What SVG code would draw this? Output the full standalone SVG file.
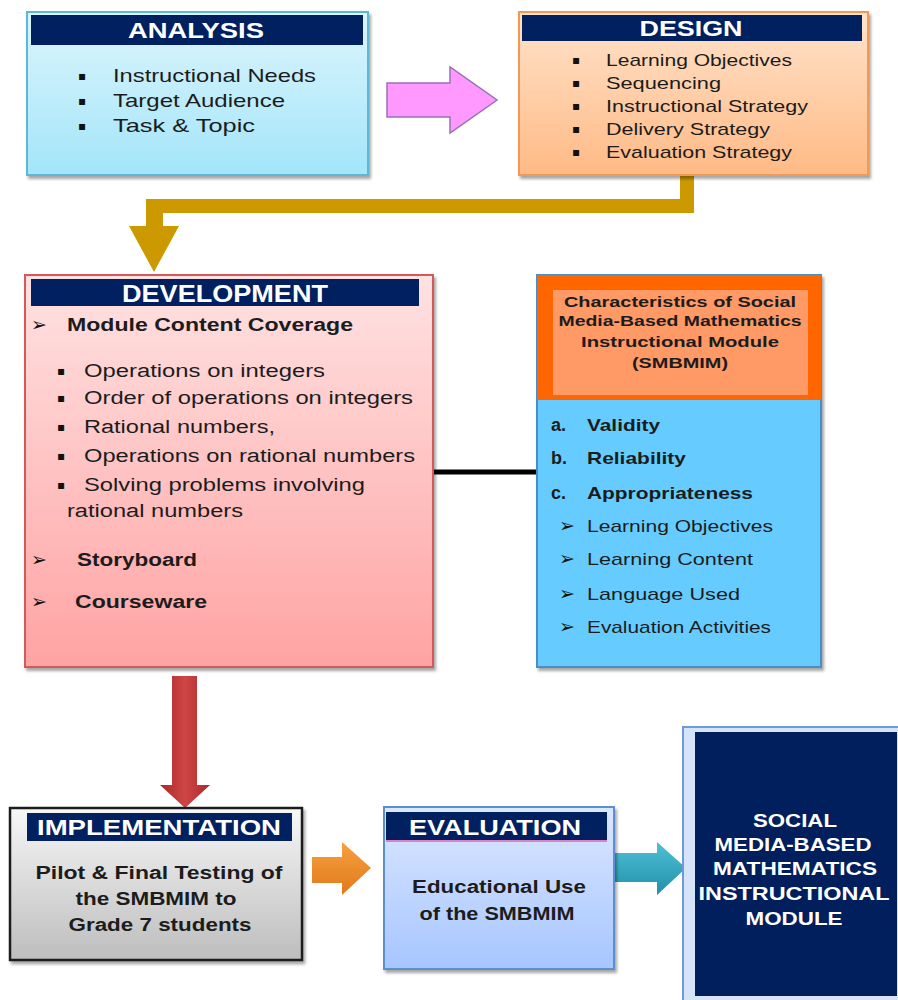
<svg xmlns="http://www.w3.org/2000/svg" width="898" height="1000" viewBox="0 0 898 1000">
<style>
.t{font-family:"Liberation Sans",Arial,sans-serif;fill:#1c1c1c}
.b{font-weight:bold}
.hd{font-family:"Liberation Sans",Arial,sans-serif;font-weight:bold;fill:#ffffff;text-anchor:middle}
.bul{font-family:"DejaVu Sans",sans-serif;fill:#111;font-size:12px}
.arr{font-family:"DejaVu Sans",sans-serif;fill:#111;font-size:19px}
.band{fill:#002060}
</style>
<defs>
<filter id="sh" x="-5%" y="-5%" width="115%" height="115%"><feDropShadow dx="2" dy="3" stdDeviation="1.5" flood-color="#000" flood-opacity="0.35"/></filter>
<linearGradient id="gA" x1="0" y1="0" x2="0" y2="1"><stop offset="0" stop-color="#DDF5FD"/><stop offset="1" stop-color="#A3E5F9"/></linearGradient>
<linearGradient id="gD" x1="0" y1="0" x2="0" y2="1"><stop offset="0" stop-color="#FFE3CC"/><stop offset="1" stop-color="#FFBA85"/></linearGradient>
<linearGradient id="gV" x1="0" y1="0" x2="0" y2="1"><stop offset="0" stop-color="#FFE2E2"/><stop offset="1" stop-color="#FFA3A3"/></linearGradient>
<linearGradient id="gI" x1="0" y1="0" x2="0" y2="1"><stop offset="0" stop-color="#F7F7F7"/><stop offset="1" stop-color="#BDBDBD"/></linearGradient>
<linearGradient id="gE" x1="0" y1="0" x2="0" y2="1"><stop offset="0" stop-color="#DCE7FF"/><stop offset="1" stop-color="#A6C6FF"/></linearGradient>
<linearGradient id="gR" x1="0" y1="0" x2="1" y2="0"><stop offset="0" stop-color="#A92A2A"/><stop offset="0.5" stop-color="#D04545"/><stop offset="1" stop-color="#A92A2A"/></linearGradient>
<linearGradient id="gO" x1="0" y1="0" x2="0" y2="1"><stop offset="0" stop-color="#F7A040"/><stop offset="1" stop-color="#E07A1A"/></linearGradient>
<linearGradient id="gT" x1="0" y1="0" x2="0" y2="1"><stop offset="0" stop-color="#4FC0D6"/><stop offset="1" stop-color="#2090A8"/></linearGradient>
</defs>

<g id="connectors">
  <path d="M387,83 H450 V67 L497,100 L450,133 V117 H387 Z" fill="#FF99FF" stroke="#9A70B8" stroke-width="1.5"/>
  <path d="M694,173 V213 H163 V226 H179 L154,272 L129,226 H146 V199 H680 V173 Z" fill="#CC9900"/>
  <line x1="433" y1="472" x2="537" y2="472" stroke="#000" stroke-width="5"/>
  <path d="M172,676 H197 V785 H210 L185,808 L160,785 H172 Z" fill="url(#gR)"/>
  <path d="M312,857 H342 V842 L371,868 L342,895 V883 H312 Z" fill="url(#gO)"/>
  <path d="M614,853 H657 V842 L686,868 L657,895 V882 H614 Z" fill="url(#gT)"/>
</g>

<g id="analysis">
  <rect x="27" y="12" width="341" height="163" fill="url(#gA)" stroke="#5DB9D3" stroke-width="2" filter="url(#sh)"/>
  <rect class="band" x="31" y="15" width="332" height="30"/>
  <text class="hd" x="196" y="38" font-size="22" textLength="136" lengthAdjust="spacingAndGlyphs">ANALYSIS</text>
  <text class="bul" x="78" y="80">▪</text>
  <text class="bul" x="78" y="105">▪</text>
  <text class="bul" x="78" y="130">▪</text>
  <text class="t" x="113" y="82" font-size="19" textLength="203" lengthAdjust="spacingAndGlyphs">Instructional Needs</text>
  <text class="t" x="113" y="107" font-size="19" textLength="172" lengthAdjust="spacingAndGlyphs">Target Audience</text>
  <text class="t" x="113" y="132" font-size="19" textLength="142" lengthAdjust="spacingAndGlyphs">Task &amp; Topic</text>
</g>

<g id="design">
  <rect x="519" y="12" width="349" height="163" fill="url(#gD)" stroke="#F29A55" stroke-width="2" filter="url(#sh)"/>
  <rect class="band" x="522" y="15" width="340" height="26"/>
  <text class="hd" x="691" y="36" font-size="22" textLength="103" lengthAdjust="spacingAndGlyphs">DESIGN</text>
  <text class="bul" x="572" y="64">▪</text>
  <text class="bul" x="572" y="87">▪</text>
  <text class="bul" x="572" y="110">▪</text>
  <text class="bul" x="572" y="133">▪</text>
  <text class="bul" x="572" y="156">▪</text>
  <text class="t" x="606" y="66" font-size="17" textLength="186" lengthAdjust="spacingAndGlyphs">Learning Objectives</text>
  <text class="t" x="606" y="89" font-size="17" textLength="115" lengthAdjust="spacingAndGlyphs">Sequencing</text>
  <text class="t" x="606" y="112" font-size="17" textLength="202" lengthAdjust="spacingAndGlyphs">Instructional Strategy</text>
  <text class="t" x="606" y="135" font-size="17" textLength="164" lengthAdjust="spacingAndGlyphs">Delivery  Strategy</text>
  <text class="t" x="606" y="158" font-size="17" textLength="186" lengthAdjust="spacingAndGlyphs">Evaluation Strategy</text>
</g>

<g id="development">
  <rect x="25" y="275" width="408" height="392" fill="url(#gV)" stroke="#D45A5A" stroke-width="2" filter="url(#sh)"/>
  <rect class="band" x="31" y="279" width="388" height="27"/>
  <text class="hd" x="225" y="302" font-size="23" font-weight="normal" textLength="206" lengthAdjust="spacingAndGlyphs">DEVELOPMENT</text>
  <text class="arr" x="31" y="331">➢</text>
  <text class="t b" x="67" y="331" font-size="18" textLength="286" lengthAdjust="spacingAndGlyphs">Module Content Coverage</text>
  <text class="bul" x="57" y="375">▪</text>
  <text class="bul" x="57" y="402">▪</text>
  <text class="bul" x="57" y="431">▪</text>
  <text class="bul" x="57" y="460">▪</text>
  <text class="bul" x="57" y="489">▪</text>
  <text class="t" x="84" y="377" font-size="18" textLength="241" lengthAdjust="spacingAndGlyphs">Operations on integers</text>
  <text class="t" x="84" y="404" font-size="18" textLength="329" lengthAdjust="spacingAndGlyphs">Order of operations on integers</text>
  <text class="t" x="84" y="433" font-size="18" textLength="191" lengthAdjust="spacingAndGlyphs">Rational numbers,</text>
  <text class="t" x="84" y="462" font-size="18" textLength="331" lengthAdjust="spacingAndGlyphs">Operations on rational numbers</text>
  <text class="t" x="84" y="491" font-size="18" textLength="281" lengthAdjust="spacingAndGlyphs">Solving problems involving</text>
  <text class="t" x="67" y="517" font-size="18" textLength="176" lengthAdjust="spacingAndGlyphs">rational numbers</text>
  <text class="arr" x="31" y="566">➢</text>
  <text class="t b" x="77" y="566" font-size="18" textLength="120" lengthAdjust="spacingAndGlyphs">Storyboard</text>
  <text class="arr" x="31" y="608">➢</text>
  <text class="t b" x="75" y="608" font-size="18" textLength="132" lengthAdjust="spacingAndGlyphs">Courseware</text>
</g>

<g id="characteristics">
  <rect x="537" y="275" width="284" height="392" fill="#66CCFF" stroke="#4A8FC4" stroke-width="2" filter="url(#sh)"/>
  <rect x="537" y="275" width="284" height="125" fill="#FF6600"/>
  <rect x="553" y="290" width="255" height="105" fill="#FF9966"/>
  <text class="t b" x="680" y="307" font-size="15" text-anchor="middle" textLength="232" lengthAdjust="spacingAndGlyphs">Characteristics of Social</text>
  <text class="t b" x="680" y="326" font-size="15" text-anchor="middle" textLength="243" lengthAdjust="spacingAndGlyphs">Media-Based Mathematics</text>
  <text class="t b" x="680" y="347" font-size="15" text-anchor="middle" textLength="198" lengthAdjust="spacingAndGlyphs">Instructional Module</text>
  <text class="t b" x="680" y="368" font-size="15" text-anchor="middle" textLength="96" lengthAdjust="spacingAndGlyphs">(SMBMIM)</text>
  <text class="t b" x="551" y="431" font-size="18">a.</text>
  <text class="t b" x="587" y="431" font-size="17" textLength="73" lengthAdjust="spacingAndGlyphs">Validity</text>
  <text class="t b" x="551" y="464" font-size="18">b.</text>
  <text class="t b" x="587" y="464" font-size="17" textLength="99" lengthAdjust="spacingAndGlyphs">Reliability</text>
  <text class="t b" x="551" y="499" font-size="18">c.</text>
  <text class="t b" x="587" y="499" font-size="17" textLength="166" lengthAdjust="spacingAndGlyphs">Appropriateness</text>
  <text class="arr" x="559" y="532" font-size="17">➢</text>
  <text class="t" x="587" y="532" font-size="17" textLength="186" lengthAdjust="spacingAndGlyphs">Learning Objectives</text>
  <text class="arr" x="559" y="565" font-size="17">➢</text>
  <text class="t" x="587" y="565" font-size="17" textLength="166" lengthAdjust="spacingAndGlyphs">Learning Content</text>
  <text class="arr" x="559" y="600" font-size="17">➢</text>
  <text class="t" x="587" y="600" font-size="17" textLength="153" lengthAdjust="spacingAndGlyphs">Language Used</text>
  <text class="arr" x="559" y="633" font-size="17">➢</text>
  <text class="t" x="587" y="633" font-size="17" textLength="184" lengthAdjust="spacingAndGlyphs">Evaluation Activities</text>
</g>

<g id="implementation">
  <rect x="10" y="808" width="292" height="152" fill="url(#gI)" stroke="#1a1a1a" stroke-width="2.5" filter="url(#sh)"/>
  <rect class="band" x="27" y="813" width="265" height="28"/>
  <text class="hd" x="159" y="835" font-size="22" textLength="244" lengthAdjust="spacingAndGlyphs">IMPLEMENTATION</text>
  <text class="t b" x="159" y="879" font-size="18" text-anchor="middle" textLength="247" lengthAdjust="spacingAndGlyphs" fill="#333">Pilot &amp; Final Testing of</text>
  <text class="t b" x="156" y="905" font-size="18" text-anchor="middle" textLength="161" lengthAdjust="spacingAndGlyphs">the SMBMIM  to</text>
  <text class="t b" x="160" y="931" font-size="18" text-anchor="middle" textLength="183" lengthAdjust="spacingAndGlyphs">Grade 7 students</text>
</g>

<g id="evaluation">
  <rect x="384" y="807" width="230" height="162" fill="url(#gE)" stroke="#5D8FD0" stroke-width="2" filter="url(#sh)"/>
  <rect class="band" x="386" y="812" width="221" height="28"/>
  <line x1="386" y1="841" x2="607" y2="841" stroke="#E060B0" stroke-width="1.5"/>
  <text class="hd" x="495" y="835" font-size="22" textLength="172" lengthAdjust="spacingAndGlyphs">EVALUATION</text>
  <text class="t b" x="499" y="893" font-size="18" text-anchor="middle" textLength="174" lengthAdjust="spacingAndGlyphs" fill="#333">Educational Use</text>
  <text class="t b" x="497" y="920" font-size="18" text-anchor="middle" textLength="155" lengthAdjust="spacingAndGlyphs" fill="#333">of the SMBMIM</text>
</g>

<g id="module">
  <rect x="683" y="727" width="222" height="280" fill="#D6E4FA" stroke="#6E9AD8" stroke-width="2"/>
  <rect x="695" y="732" width="202" height="264" fill="#001F5C"/>
  <text class="hd" x="795" y="827" font-size="19" textLength="84" lengthAdjust="spacingAndGlyphs">SOCIAL</text>
  <text class="hd" x="793" y="851" font-size="19" textLength="157" lengthAdjust="spacingAndGlyphs">MEDIA-BASED</text>
  <text class="hd" x="795" y="875" font-size="19" textLength="164" lengthAdjust="spacingAndGlyphs">MATHEMATICS</text>
  <text class="hd" x="794" y="900" font-size="19" textLength="191" lengthAdjust="spacingAndGlyphs">INSTRUCTIONAL</text>
  <text class="hd" x="794" y="925" font-size="19" textLength="97" lengthAdjust="spacingAndGlyphs">MODULE</text>
</g>
</svg>
